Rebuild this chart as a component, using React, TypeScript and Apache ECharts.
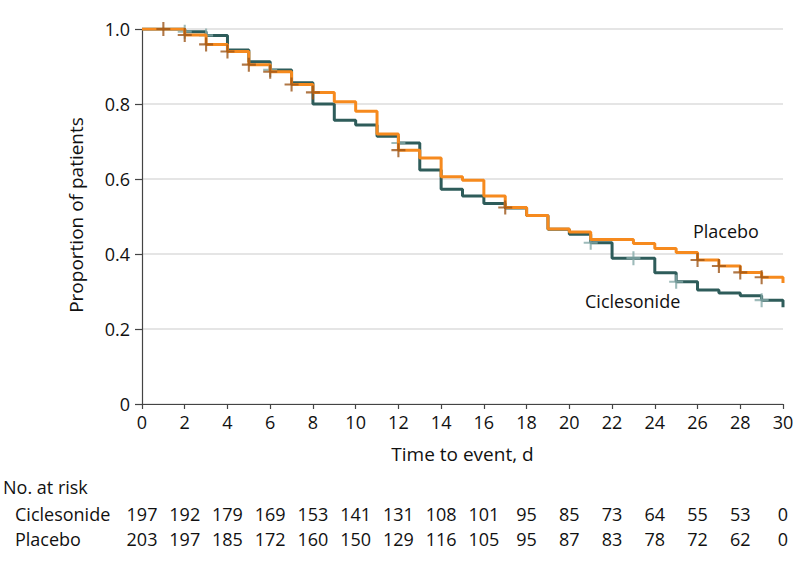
import { useEffect, useRef } from "react";
import * as echarts from "echarts";

const days = [0, 1, 2, 3, 4, 5, 6, 7, 8, 9, 10, 11, 12, 13, 14, 15, 16, 17, 18, 19, 20, 21, 22, 23, 24, 25, 26, 27, 28, 29, 30];
const ciclesonideSurv = [1.0, 1.0, 0.993, 0.983, 0.944, 0.913, 0.891, 0.857, 0.8, 0.757, 0.744, 0.714, 0.696, 0.624, 0.573, 0.555, 0.535, 0.523, 0.503, 0.466, 0.453, 0.43, 0.389, 0.389, 0.35, 0.326, 0.304, 0.296, 0.289, 0.277, 0.258];
const placeboSurv = [1.0, 1.0, 0.984, 0.959, 0.94, 0.905, 0.886, 0.852, 0.831, 0.806, 0.781, 0.72, 0.677, 0.656, 0.606, 0.597, 0.555, 0.524, 0.503, 0.467, 0.459, 0.439, 0.439, 0.428, 0.415, 0.404, 0.384, 0.368, 0.351, 0.338, 0.323];
const ciclesonideCensorDays = [2, 3, 6, 12, 21, 23, 25, 29];
const placeboCensorDays = [1, 2, 3, 4, 5, 6, 7, 8, 12, 17, 26, 27, 28, 29];

const riskDays = [0, 2, 4, 6, 8, 10, 12, 14, 16, 18, 20, 22, 24, 26, 28, 30];
const ciclesonideRisk = [197, 192, 179, 169, 153, 141, 131, 108, 101, 95, 85, 73, 64, 55, 53, 0];
const placeboRisk = [203, 197, 185, 172, 160, 150, 129, 116, 105, 95, 87, 83, 78, 72, 62, 0];

const groupNames = ["Ciclesonide", "Placebo"];
const xTitle = "Time to event, d";
const yTitle = "Proportion of patients";
const riskTitle = "No. at risk";

const FONT = '"Open Sans", "DejaVu Sans", sans-serif';
const TEXT = "#111";
const ORANGE = "#f68a1e";
const TEAL = "#2e5c5a";
const BROWN = "#9c5518";
const LIGHT = "#86aaa9";

export default function App() {
  const ref = useRef<HTMLDivElement>(null);
  useEffect(() => {
    const chart = echarts.init(ref.current!, null, { renderer: "svg" });
    const cross = "path://M6.8,0H9.2V6.8H16V9.2H9.2V16H6.8V9.2H0V6.8H6.8Z";
    const stepData = (vals: number[]) => days.map((d, i) => [d, vals[i]]);
    const censorData = (cd: number[], vals: number[]) => cd.map((d) => [d, vals[days.indexOf(d)]]);

    chart.setOption({
      animation: false,
      textStyle: { fontFamily: FONT },
      grid: { left: 142, right: 15, top: 29, bottom: 164, containLabel: false, outerBoundsMode: "none" },
      xAxis: {
        type: "value",
        min: 0,
        max: 30,
        interval: 2,
        axisLine: { show: true, lineStyle: { color: "#444", width: 1.2 } },
        axisTick: { show: true, length: 5, lineStyle: { color: "#444", width: 1.2 } },
        axisLabel: { fontSize: 18, color: TEXT, margin: 9, fontFamily: FONT },
        splitLine: { show: false },
      },
      yAxis: {
        type: "value",
        min: 0,
        max: 1,
        interval: 0.2,
        axisLine: { show: true, lineStyle: { color: "#444", width: 1.2 } },
        axisTick: { show: true, length: 7, lineStyle: { color: "#444", width: 1.2 } },
        axisLabel: {
          fontSize: 18,
          color: TEXT,
          margin: 12,
          fontFamily: FONT,
          formatter: (v: number) => (v === 0 ? "0" : v.toFixed(1)),
        },
        splitLine: { show: true, lineStyle: { color: "#dcdcdc", width: 1.5 } },
      },
      series: [
        {
          name: groupNames[0],
          type: "line",
          step: "end",
          data: stepData(ciclesonideSurv),
          showSymbol: false,
          lineStyle: { color: TEAL, width: 3 },
          z: 2,
        },
        {
          name: groupNames[0] + " censored",
          type: "scatter",
          data: censorData(ciclesonideCensorDays, ciclesonideSurv),
          symbol: cross,
          symbolSize: 14,
          itemStyle: { color: LIGHT },
          z: 3,
        },
        {
          name: groupNames[1],
          type: "line",
          step: "end",
          data: stepData(placeboSurv),
          showSymbol: false,
          lineStyle: { color: ORANGE, width: 3 },
          z: 4,
        },
        {
          name: groupNames[1] + " censored",
          type: "scatter",
          data: censorData(placeboCensorDays, placeboSurv),
          symbol: cross,
          symbolSize: 14,
          itemStyle: { color: BROWN },
          z: 5,
        },
      ],
    });

    const px = (t: number) => chart.convertToPixel({ xAxisIndex: 0 }, t) as number;
    const txt = (text: string, x: number, y: number, align = "left", size = 18, extra: any = {}) => ({
      type: "text",
      x,
      y,
      ...extra,
      style: { text, fill: TEXT, fontSize: size, fontFamily: FONT, align, verticalAlign: "middle" },
    });
    const xMid = (px(0) + px(30)) / 2;
    const graphic: any[] = [
      txt(groupNames[1], 693, 231),
      txt(groupNames[0], 585, 301),
      txt(xTitle, xMid, 454, "center", 19),
      txt(yTitle, 76, 215, "center", 19, { rotation: Math.PI / 2 }),
      txt(riskTitle, 3, 487),
      txt(groupNames[0], 15, 514),
      txt(groupNames[1], 15, 539),
    ];
    riskDays.forEach((d, i) => {
      graphic.push(txt(String(ciclesonideRisk[i]), px(d), 514, "center"));
      graphic.push(txt(String(placeboRisk[i]), px(d), 539, "center"));
    });
    chart.setOption({ graphic });

    return () => chart.dispose();
  }, []);
  return <div ref={ref} style={{ position: "fixed", left: 0, top: 0, width: 798, height: 568, background: "#fff" }} />;
}
